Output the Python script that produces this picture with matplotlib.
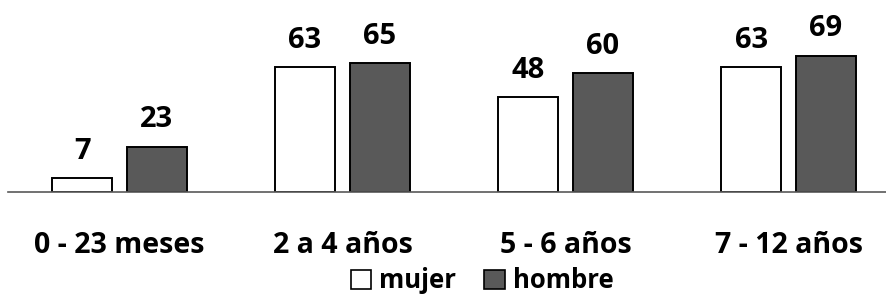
import numpy as np
import matplotlib.pyplot as plt
from matplotlib.patches import Patch

# datos
categorias = ["0 - 23 meses", "2 a 4 años", "5 - 6 años", "7 - 12 años"]
mujer = [7, 63, 48, 63]
hombre = [23, 65, 60, 69]

COL_MUJER = "#FFFFFF"
COL_HOMBRE = "#595959"

plt.rcParams["font.family"] = ["Open Sans", "DejaVu Sans"]

W, H = 886, 299
fig = plt.figure(figsize=(W / 100, H / 100), dpi=100)
# axis line at y=192 px, spans x 8..886
ax = fig.add_axes([8 / W, (H - 192) / H, (886 - 8) / W, 178 / H])

x = np.arange(len(categorias))
w = 0.269
off = 0.168
b1 = ax.bar(x - off, mujer, w, color=COL_MUJER, edgecolor="black", linewidth=1.4, zorder=3)
b2 = ax.bar(x + off, hombre, w, color=COL_HOMBRE, edgecolor="black", linewidth=1.4, zorder=3)

for bars, vals in ((b1, mujer), (b2, hombre)):
    for b, v in zip(bars, vals):
        ax.annotate(f"{v}", (b.get_x() + b.get_width() / 2, v), xytext=(0, 9),
                    textcoords="offset points", ha="center", va="bottom",
                    fontsize=21, fontweight="bold")

ax.set_xlim(-0.5, 3.437)
ax.set_ylim(0, 90)
ax.set_yticks([])
ax.set_xticks(x)
ax.set_xticklabels(categorias, fontsize=20.5, fontweight="bold")
ax.tick_params(axis="x", length=0, pad=28)
for s in ("top", "right", "left"):
    ax.spines[s].set_visible(False)
ax.spines["bottom"].set_color("#595959")
ax.spines["bottom"].set_linewidth(1.2)
ax.spines["bottom"].set_zorder(4)

handles = [Patch(facecolor=COL_MUJER, edgecolor="black", linewidth=1.2, label="mujer"),
           Patch(facecolor=COL_HOMBRE, edgecolor="black", linewidth=1.2, label="hombre")]
fig.legend(handles=handles, loc="center", bbox_to_anchor=(482 / W, 1 - 281 / H),
           ncol=2, frameon=False, handlelength=0.8, handleheight=0.8,
           handletextpad=0.3, columnspacing=1.1, borderpad=0.1,
           prop={"size": 18.5, "weight": "bold"})

fig.savefig("out.png", dpi=100)
